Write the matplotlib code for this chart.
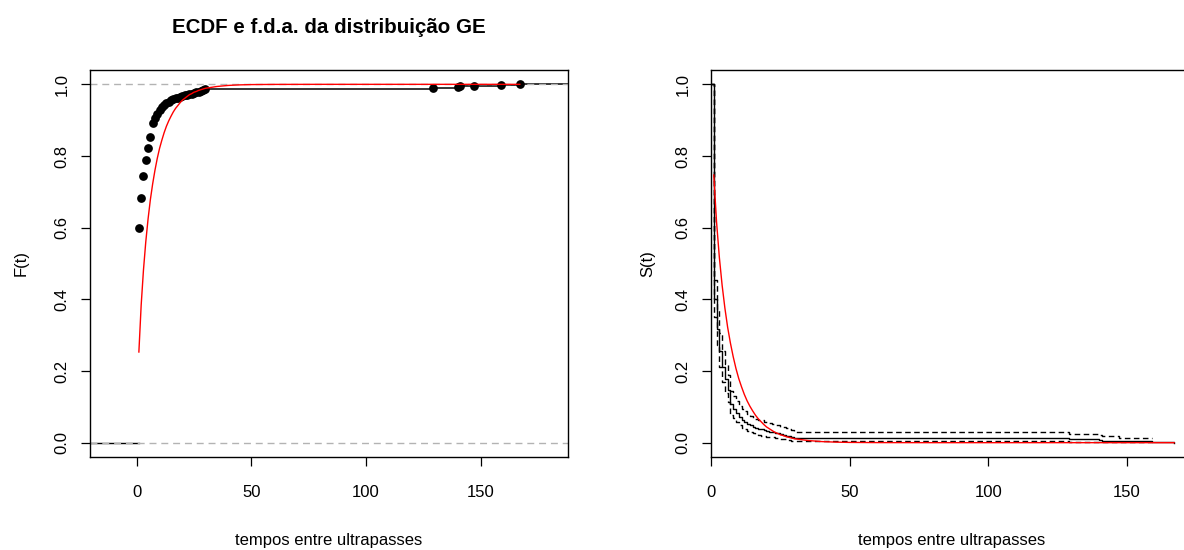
import numpy as np
import matplotlib
matplotlib.use("Agg")
import matplotlib.pyplot as plt
from matplotlib import font_manager

# tempos entre ultrapasses (valores distintos) e F empírica
tempos = [1, 2, 3, 4, 5, 6, 7, 8, 9, 10, 11, 12, 13, 14, 15, 16, 17, 18, 19, 20,
          21, 22, 23, 24, 25, 26, 27, 28, 29, 30, 129, 140, 141, 147, 159, 167]
ecdf_F = [0.600, 0.682, 0.745, 0.790, 0.823, 0.853, 0.893, 0.905, 0.918, 0.928,
          0.936, 0.942, 0.947, 0.952, 0.956, 0.959, 0.961, 0.963, 0.965, 0.967,
          0.969, 0.971, 0.972, 0.974, 0.976, 0.978, 0.980, 0.982, 0.984, 0.987,
          0.990, 0.992, 0.994, 0.996, 0.998, 1.000]

# intervalo de confiança do Kaplan-Meier (limites lidos)
ic_sup = [0.455, 0.370, 0.305, 0.255, 0.220, 0.188, 0.143, 0.130, 0.115, 0.103,
          0.094, 0.087, 0.081, 0.075, 0.070, 0.067, 0.064, 0.062, 0.059, 0.057,
          0.054, 0.052, 0.050, 0.048, 0.045, 0.043, 0.040, 0.037, 0.034, 0.029,
          0.025, 0.022, 0.018, 0.014, np.nan, np.nan]
ic_inf = [0.350, 0.272, 0.212, 0.170, 0.140, 0.113, 0.078, 0.068, 0.057, 0.048,
          0.042, 0.037, 0.033, 0.029, 0.026, 0.024, 0.022, 0.020, 0.019, 0.017,
          0.016, 0.015, 0.014, 0.012, 0.011, 0.010, 0.008, 0.007, 0.006, 0.005,
          0.003, 0.002, 0.001, 0.0005, np.nan, np.nan]

# f.d.a. ajustada da distribuição GE (curva vermelha)
ge_t = [1, 2, 3, 4, 5, 6, 7, 8, 9, 10, 11, 12, 13, 14, 15, 16, 17, 18, 19, 20,
        21, 22, 23, 24, 25, 26, 27, 28, 29, 30, 35, 40, 45, 50, 60, 80, 100, 120,
        140, 167]
ge_F = [0.253, 0.384, 0.482, 0.560, 0.624, 0.678, 0.722, 0.760, 0.793, 0.821,
        0.844, 0.865, 0.883, 0.898, 0.911, 0.923, 0.933, 0.941, 0.949, 0.956,
        0.961, 0.966, 0.971, 0.974, 0.978, 0.980, 0.983, 0.985, 0.987, 0.989,
        0.994, 0.997, 0.9985, 0.9993, 0.9998, 1.0, 1.0, 1.0, 1.0, 1.0]

# fonte estreita (como no R) se existir
names = {f.name for f in font_manager.fontManager.ttflist}
if "Liberation Sans Narrow" in names:
    family, fs, fs_title = "Liberation Sans Narrow", 14.5, 18
else:
    family, fs, fs_title = "Liberation Sans", 12, 14.8
plt.rcParams["font.family"] = [family, "DejaVu Sans"]

W, H = 1184, 550
fig = plt.figure(figsize=(W / 100, H / 100), dpi=100)
ax1 = fig.add_axes([90 / W, 93 / H, 478 / W, 387 / H])
ax2 = fig.add_axes([711 / W, 93 / H, 482 / W, 387 / H])

t = np.array(tempos, dtype=float)
F = np.array(ecdf_F)
x_lo, x_hi = -20.3, 188.0

# ---- painel esquerdo: ECDF ----
ax1.plot([x_lo, t[0]], [0, 0], color="black", lw=1)
seg_end = np.append(t[1:], x_hi)
for a, b, y in zip(t, seg_end, F):
    ax1.plot([a, b], [y, y], color="black", lw=1.1)
ax1.axhline(0, color="#B3B3B3", lw=1, ls=(0, (5, 3.5)))
ax1.axhline(1, color="#B3B3B3", lw=1, ls=(0, (5, 3.5)))
ax1.plot(t, F, "o", color="black", ms=6.3, mew=0)
ax1.plot(ge_t, ge_F, color="red", lw=1)

ax1.set_xlim(x_lo, x_hi)
ax1.set_ylim(-0.04, 1.04)
ax1.set_xticks([0, 50, 100, 150])
ax1.set_yticks([0, 0.2, 0.4, 0.6, 0.8, 1.0])
ax1.set_yticklabels(["0.0", "0.2", "0.4", "0.6", "0.8", "1.0"])
ax1.set_xlabel("tempos entre ultrapasses", fontsize=fs, va="center")
ax1.xaxis.set_label_coords(0.5, -0.217)
ax1.set_ylabel("F(t)", fontsize=fs, va="center")
ax1.yaxis.set_label_coords(-0.144, 0.5)
ax1.text(0.5, 1.111, "ECDF e f.d.a. da distribuição GE", transform=ax1.transAxes,
         ha="center", va="center", fontsize=fs_title, fontweight="bold")

# ---- painel direito: Kaplan-Meier ----
km_x = np.concatenate([[0], t])
km_S = np.concatenate([[1], 1 - F])
ax2.plot(km_x, km_S, color="black", lw=1, drawstyle="steps-post")
ax2.plot(km_x, np.concatenate([[1], ic_sup]), color="black", lw=1,
         ls=(0, (4, 2.5)), drawstyle="steps-post")
ax2.plot(km_x, np.concatenate([[1], ic_inf]), color="black", lw=1,
         ls=(0, (4, 2.5)), drawstyle="steps-post")
ax2.plot(ge_t, 1 - np.array(ge_F), color="red", lw=1)

ax2.set_xlim(0, 173.8)
ax2.set_ylim(-0.04, 1.04)
ax2.set_xticks([0, 50, 100, 150])
ax2.set_yticks([0, 0.2, 0.4, 0.6, 0.8, 1.0])
ax2.set_yticklabels(["0.0", "0.2", "0.4", "0.6", "0.8", "1.0"])
ax2.set_xlabel("tempos entre ultrapasses", fontsize=fs, va="center")
ax2.xaxis.set_label_coords(0.5, -0.217)
ax2.set_ylabel("S(t)", fontsize=fs, va="center")
ax2.yaxis.set_label_coords(-0.131, 0.5)

for ax in (ax1, ax2):
    for s in ax.spines.values():
        s.set_linewidth(1)
        s.set_color("black")
    ax.tick_params(direction="out", length=6.5, width=0.9, labelsize=fs,
                   colors="black")
    ax.tick_params(axis="x", pad=14)
    ax.tick_params(axis="y", pad=8)
    for lab in ax.get_yticklabels():
        lab.set_rotation(90)
        lab.set_va("center")

fig.savefig("out.png", dpi=100)
